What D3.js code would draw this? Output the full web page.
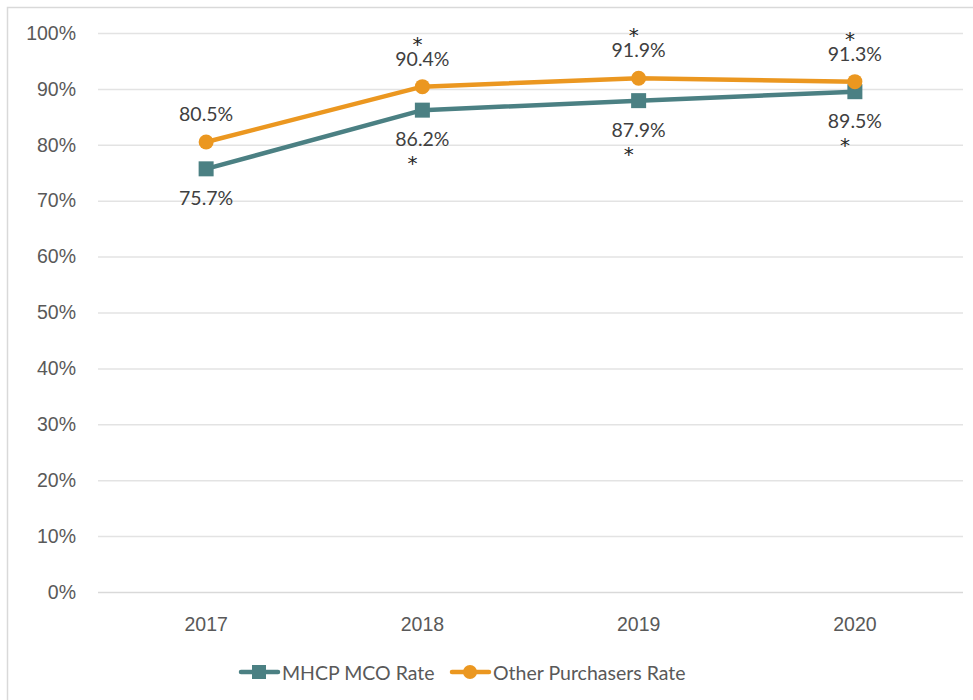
<!DOCTYPE html>
<html>
<head>
<meta charset="utf-8">
<script src="https://cdn.jsdelivr.net/npm/d3@7"></script>
<style>
  html, body { margin: 0; padding: 0; background: #fff; }
  svg { display: block; font-family: Lato, "Open Sans", sans-serif; }
</style>
</head>
<body>
<svg id="chart" width="973" height="700"></svg>
<script>
// Years on the x axis
const years = ["2017", "2018", "2019", "2020"];
// Rates (%) per year
const mhcpRates = [75.7, 86.2, 87.9, 89.5];
const otherRates = [80.5, 90.4, 91.9, 91.3];
// Significance markers shown next to each value label
const mhcpStars = [false, true, true, true];
const otherStars = [false, true, true, true];
// Y axis ticks (%)
const yTicks = [0, 10, 20, 30, 40, 50, 60, 70, 80, 90, 100];
const seriesNames = ["MHCP MCO Rate", "Other Purchasers Rate"];

const teal = "#4b8083";
const orange = "#eb9720";
const gridColor = "#e3e3e3";
const fontSize = "19.5px";

const svg = d3.select("#chart");

// Outer frame
svg.append("rect")
  .attr("x", 7.5).attr("y", 7.5)
  .attr("width", 1000).attr("height", 1000)
  .attr("fill", "none").attr("stroke", "#d9d9d9").attr("stroke-width", 1.5);

const plot = { left: 98, right: 963, top: 33, bottom: 592 };

const x = d3.scaleBand().domain(years).range([plot.left, plot.right]);
const y = d3.scaleLinear().domain([0, 100]).range([plot.bottom, plot.top]);
const cx = d => x(d) + x.bandwidth() / 2;

// Horizontal gridlines + y tick labels
const yAxis = d3.axisLeft(y)
  .tickValues(yTicks)
  .tickSize(-(plot.right - plot.left))
  .tickPadding(22)
  .tickFormat(d => d + "%");
const gy = svg.append("g")
  .attr("transform", `translate(${plot.left},0)`)
  .call(yAxis);
gy.select(".domain").remove();
gy.selectAll(".tick line")
  .attr("stroke", d => d === 0 ? "#d9d9d9" : gridColor)
  .attr("stroke-width", 1.5);
gy.selectAll(".tick text")
  .attr("fill", "#595959")
  .style("font-size", fontSize);

// X axis labels
const xAxis = d3.axisBottom(x).tickSize(0).tickPadding(25);
const gx = svg.append("g")
  .attr("transform", `translate(0,${plot.bottom})`)
  .call(xAxis);
gx.select(".domain").remove();
gx.selectAll(".tick text")
  .attr("fill", "#595959")
  .style("font-size", fontSize);

const line = d3.line().x((d, i) => cx(years[i])).y(d => y(d));

// MHCP MCO series
svg.append("path")
  .datum(mhcpRates)
  .attr("d", line)
  .attr("fill", "none").attr("stroke", teal)
  .attr("stroke-width", 4.5).attr("stroke-linejoin", "round");

// Other purchasers series
svg.append("path")
  .datum(otherRates)
  .attr("d", line)
  .attr("fill", "none").attr("stroke", orange)
  .attr("stroke-width", 4.5).attr("stroke-linejoin", "round");

const sq = 15;
svg.selectAll(".mhcp-pt")
  .data(mhcpRates)
  .join("rect")
  .attr("x", (d, i) => cx(years[i]) - sq / 2)
  .attr("y", d => y(d) - sq / 2)
  .attr("width", sq).attr("height", sq)
  .attr("fill", teal);

svg.selectAll(".other-pt")
  .data(otherRates)
  .join("circle")
  .attr("cx", (d, i) => cx(years[i]))
  .attr("cy", d => y(d))
  .attr("r", 7.5)
  .attr("fill", orange);

const labelColor = "#404040";
const fmt = d => d.toFixed(1) + "%";

// Two-line value labels: star line + value line in one text element
function addStar(t, sx, sy) {
  t.append("tspan")
    .attr("x", sx).attr("y", sy)
    .attr("fill", "#262626")
    .style("font-family", "'DejaVu Sans', sans-serif")
    .style("font-size", "20px")
    .text("*");
}

// Orange labels sit above the point, star on top
otherRates.forEach((v, i) => {
  const px = cx(years[i]), py = y(v);
  const t = svg.append("text")
    .attr("text-anchor", "middle").attr("dominant-baseline", "central")
    .attr("fill", labelColor).style("font-size", fontSize);
  if (otherStars[i]) addStar(t, px - 5, py - 43);
  t.append("tspan").attr("x", px).attr("y", py - 29).text(fmt(v));
});

// Teal labels sit below the point, star underneath
mhcpRates.forEach((v, i) => {
  const px = cx(years[i]), py = y(v);
  const t = svg.append("text")
    .attr("text-anchor", "middle").attr("dominant-baseline", "central")
    .attr("fill", labelColor).style("font-size", fontSize);
  t.append("tspan").attr("x", px).attr("y", py + 28).text(fmt(v));
  if (mhcpStars[i]) addStar(t, px - 10, py + 53);
});

// Legend
const legendY = 672;
const legend = svg.append("g");
// teal entry
legend.append("line")
  .attr("x1", 241).attr("x2", 278).attr("y1", legendY).attr("y2", legendY)
  .attr("stroke", teal).attr("stroke-width", 4.5).attr("stroke-linecap", "round");
legend.append("rect")
  .attr("x", 252).attr("y", legendY - 7).attr("width", 14).attr("height", 14)
  .attr("fill", teal);
legend.append("text")
  .attr("x", 282).attr("y", legendY).attr("dominant-baseline", "central")
  .attr("fill", "#595959").style("font-size", fontSize)
  .text(seriesNames[0]);
// orange entry
legend.append("line")
  .attr("x1", 452).attr("x2", 489).attr("y1", legendY).attr("y2", legendY)
  .attr("stroke", orange).attr("stroke-width", 4.5).attr("stroke-linecap", "round");
legend.append("circle")
  .attr("cx", 470).attr("cy", legendY).attr("r", 7)
  .attr("fill", orange);
legend.append("text")
  .attr("x", 493).attr("y", legendY).attr("dominant-baseline", "central")
  .attr("fill", "#595959").style("font-size", fontSize)
  .text(seriesNames[1]);
</script>
</body>
</html>
